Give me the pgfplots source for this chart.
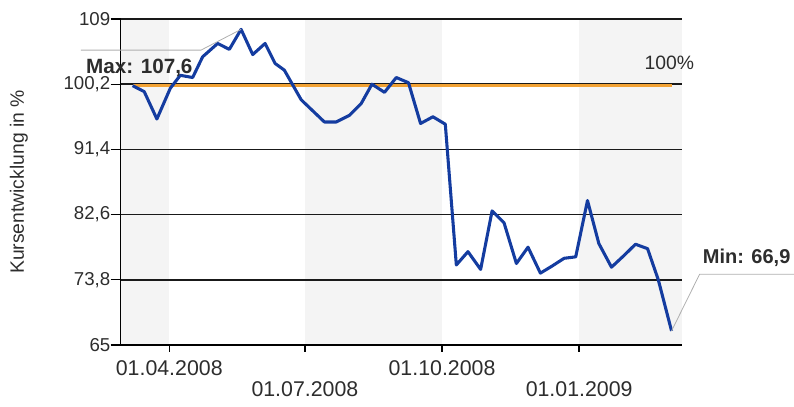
\documentclass[border=0pt]{standalone}
\usepackage{pgfplots}
\pgfplotsset{compat=1.18}
\usepackage{fontspec}
\setmainfont{Liberation Sans}
\definecolor{kurs}{RGB}{20,60,160}
\definecolor{hundert}{RGB}{242,162,52}
\definecolor{band}{RGB}{244,244,244}
\definecolor{txt}{RGB}{45,45,45}
\definecolor{callout}{RGB}{175,175,175}

\begin{document}
\begin{tikzpicture}
\begin{axis}[
  set layers,
  scale only axis,
  width=421pt, height=244.5pt,
  xmin=-32.6, xmax=344,
  ymin=65, ymax=109,
  clip=false,
  axis x line*=bottom, axis y line*=left,
  axis line style={black, line width=1.1pt},
  tick align=outside,
  ytick={65,73.8,82.6,91.4,100.2,109},
  yticklabels={65,{73,8},{82,6},{91,4},{100,2},109},
  ytick style={black, line width=1pt, /pgfplots/major tick length=7.5pt},
  xtick style={black, line width=1pt, /pgfplots/major tick length=5pt},
  ymajorgrids,
  grid style={black!90, line width=1.15pt},
  xtick={0,183},
  xticklabels={01.04.2008,01.10.2008},
  extra x ticks={91,275},
  extra x tick labels={01.07.2008,01.01.2009},
  extra x tick style={xticklabel style={yshift=-16pt}},
  yticklabel style={font=\fontsize{14}{16}\selectfont, text=txt},
  xticklabel style={font=\fontsize{16}{18}\selectfont, text=txt,
    inner sep=1pt, yshift=-6pt},
  ylabel={Kursentwicklung in \%},
  ylabel style={at={([xshift=-76.3pt]rel axis cs:0,0.5)}, anchor=center,
    font=\fontsize{14.5}{16}\selectfont, text=txt},
]

% Quartalsbaender
\addplot[fill=band, draw=none, on layer=axis background] coordinates {(-32.6,65) (-32.6,109) (0,109) (0,65)};
\addplot[fill=band, draw=none, on layer=axis background] coordinates {(91,65) (91,109) (183,109) (183,65)};
\addplot[fill=band, draw=none, on layer=axis background] coordinates {(275,65) (275,109) (344,109) (344,65)};

% 100%-Linie
\addplot[hundert, line width=2.5pt] coordinates {(-24.6,100) (337,100)};

% Kursverlauf (Tage ab 01.04.2008)
\addplot[kurs, line width=2.3pt, line join=round] coordinates {
(-24.6,100.0) (-16.8,99.2) (-8.3,95.5) (0.7,99.65) (7.4,101.4) (15.7,101.1)
(22.4,103.9) (32.5,105.7) (40.3,104.9) (48.2,107.6) (56.0,104.2) (64.3,105.7)
(71.0,103.0) (77.2,102.1) (88.5,98.1) (104.1,95.1) (112.0,95.1) (120.9,96.0)
(128.8,97.6) (136.0,100.2) (144.4,99.1) (152.3,101.1) (160.5,100.4) (168.6,94.9)
(176.9,95.8) (185.2,94.8) (192.6,75.8) (200.4,77.6) (208.9,75.2) (216.6,83.1)
(224.6,81.5) (232.9,76.0) (240.7,78.2) (249.0,74.7) (256.4,75.6) (264.9,76.7)
(272.7,76.9) (280.6,84.5) (288.2,78.7) (296.7,75.5) (305.2,77.1) (312.8,78.6)
(320.9,78.0) (328.1,73.8) (337.0,66.9)
};

% Beschriftungen
\draw[callout, line width=0.6pt] (axis cs:-59.3,104.8) -- (axis cs:21.3,104.8) -- (axis cs:48.2,107.6);
\node[anchor=west, inner sep=0pt, text=txt, font=\bfseries\fontsize{15.5}{18}\selectfont] at (axis cs:-56,102.45) {Max: 107,6};
\draw[callout, line width=0.6pt] (axis cs:337,66.9) -- (axis cs:355.8,74.54) -- (axis cs:420.2,74.54);
\node[anchor=west, inner sep=0pt, text=txt, font=\bfseries\fontsize{15}{18}\selectfont] at (axis cs:357.9,76.74) {Min: 66,9};
\node[anchor=west, inner sep=0pt, text=txt, font=\fontsize{14.5}{16}\selectfont] at (axis cs:318.7,103.06) {100\%};
\end{axis}
\pgfresetboundingbox
\path[use as bounding box] (-90.5pt,-46.5pt) rectangle (505pt,258.75pt);
\end{tikzpicture}
\end{document}
